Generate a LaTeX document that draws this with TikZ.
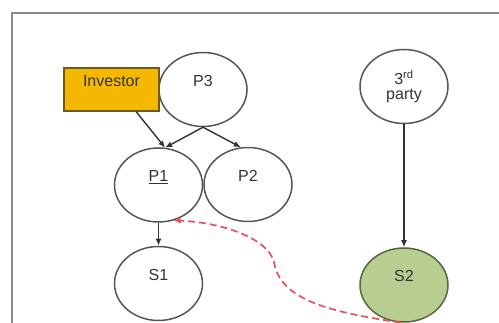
\documentclass[tikz,border=0pt]{standalone}
\usepackage{fontspec}
\setmainfont{Liberation Sans}
\usetikzlibrary{shapes.geometric,arrows.meta}
\definecolor{framegray}{HTML}{8C8C8C}
\definecolor{blobline}{HTML}{555555}
\definecolor{textgray}{HTML}{333333}
\definecolor{investorgold}{HTML}{F5B800}
\definecolor{investorline}{HTML}{6B5A20}
\definecolor{subgreen}{HTML}{B8CE91}
\definecolor{subline}{HTML}{56663F}
\definecolor{linkred}{HTML}{E8505A}
\begin{document}
\begin{tikzpicture}[
    x=1pt, y=-1pt,
    blob/.style={ellipse, draw=blobline, line width=1.5pt, minimum width=88pt, minimum height=74pt, align=center, text=textgray, font=\fontsize{16}{15}\selectfont},
    lift/.style={text depth=18pt},
    owner/.style={rectangle, draw=investorline, line width=1.5pt, fill=investorgold, minimum width=95pt, minimum height=43pt, text=textgray, font=\fontsize{16}{15}\selectfont},
    arrow/.style={-{Latex[length=7pt,width=6pt]}, draw=textgray, line width=1.4pt},
    redlink/.style={-{Latex[length=7pt,width=6pt]}, draw=linkred, line width=1.7pt, dash pattern=on 7pt off 4pt}
]
    \useasboundingbox (0,0) rectangle (499,323);
    % Rahmen
    \draw[framegray, line width=2pt] (12,335) |- (510,13);

    % Knoten
    \node[blob, lift] (p3) at (203,89.5) {P3};
    \node[owner, lift] (inv) at (111.5,89.5) {Investor};
    \node[blob] (third) at (404,86.5) {3\textsuperscript{rd}\\party};
    \node[blob, lift] (p1) at (158.5,185) {\underline{P1}};
    \node[blob, lift] (p2) at (248,184.5) {P2};
    \node[blob, lift] (s1) at (158.5,283.5) {S1};
    \node[blob, lift, fill=subgreen, draw=subline] (s2) at (404,285) {S2};
    \coordinate (bend) at (274,262);

    % Beziehungen
    \draw[arrow] (inv.-42) -- (p1.80);
    \draw[arrow] (p3.south) -- (p1.80);
    \draw[arrow] (p3.south) -- (p2.101);
    \draw[arrow] (p1.south) -- (s1.north);
    \draw[arrow] (third.south) -- (s2.north);
    \draw[redlink] (s2.-95) .. controls (330,312) and (280,300) .. (bend) .. controls (268,238) and (220,222) .. (p1.-67);
\end{tikzpicture}
\end{document}
